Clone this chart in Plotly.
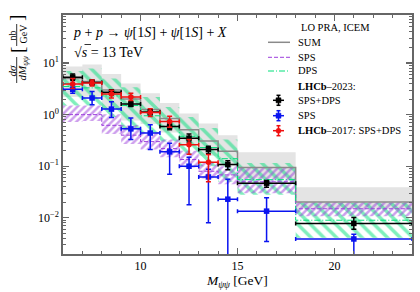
import plotly.graph_objects as go

# ---------------- data ----------------
bin_edges = [6, 7, 8, 9, 10, 11, 12, 13, 14, 15, 18, 24]
bin_centers = [6.5, 7.5, 8.5, 9.5, 10.5, 11.5, 12.5, 13.5, 14.5, 16.5, 21.0]
bin_halfw = [0.5, 0.5, 0.5, 0.5, 0.5, 0.5, 0.5, 0.5, 0.5, 1.5, 3.0]

# theory (LO PRA, ICEM)
sum_c = [5.0, 4.4, 3.0, 2.0, 1.25, 0.84, 0.51, 0.31, 0.195, 0.095, 0.0204]
sum_lo = [2.2, 2.25, 1.3, 0.77, 0.66, 0.45, 0.265, 0.16, 0.1, 0.058, 0.015]
sum_hi = [8.6, 9.4, 6.1, 4.0, 2.6, 1.68, 1.05, 0.67, 0.40, 0.186, 0.039]

sps_c = [1.0, 1.0, 0.62, 0.4, 0.3, 0.22, 0.135, 0.08, 0.068, 0.05, 0.015]
sps_lo = [0.72, 0.75, 0.42, 0.27, 0.21, 0.15, 0.095, 0.058, 0.045, 0.03, 0.0108]
sps_hi = [1.5, 1.5, 1.02, 0.63, 0.46, 0.33, 0.2, 0.118, 0.1, 0.093, 0.0204]

dps_c = [3.5, 3.3, 2.3, 1.5, 0.95, 0.6, 0.38, 0.23, 0.14, 0.055, 0.009]
dps_lo = [1.5, 1.5, 0.9, 0.5, 0.45, 0.3, 0.17, 0.1, 0.05, 0.028, 0.0041]
dps_hi = [7.0, 7.8, 5.0, 3.4, 2.2, 1.4, 0.9, 0.55, 0.33, 0.116, 0.0195]

# LHCb-2023 SPS+DPS
lhcb23_tot = [5.3, 4.2, 2.7, 1.6, 1.12, 0.59, 0.35, 0.21, 0.108, 0.047, 0.0078]
lhcb23_tot_up = [0.8, 0.5, 0.35, 0.18, 0.13, 0.10, 0.07, 0.035, 0.02, 0.006, 0.0024]
lhcb23_tot_dn = [0.7, 0.45, 0.3, 0.16, 0.12, 0.08, 0.055, 0.035, 0.022, 0.008, 0.0018]

# LHCb-2023 SPS
lhcb23_sps = [3.1, 2.1, 1.28, 0.53, 0.44, 0.19, 0.10, 0.062, 0.023, 0.0135, 0.0039]
lhcb23_sps_up = [0.7, 0.7, 0.5, 0.33, 0.2, 0.09, 0.05, 0.025, 0.033, 0.011, 0.0009]
lhcb23_sps_dn = [0.5, 0.55, 0.4, 0.2, 0.23, 0.12, 0.082, 0.054, 0.0228, 0.010, 0.00385]

# LHCb-2017 SPS+DPS
lhcb17_x = [6.5, 7.5, 8.5, 9.5, 10.5, 11.5, 12.5, 13.5]
lhcb17_halfw = [0.5, 0.5, 0.5, 0.5, 0.5, 0.5, 0.5, 0.5]
lhcb17_tot = [3.9, 4.1, 2.5, 2.2, 1.1, 0.74, 0.26, 0.12]
lhcb17_up = [1.1, 0.6, 0.45, 0.4, 0.2, 0.19, 0.07, 0.048]
lhcb17_dn = [0.7, 0.5, 0.4, 0.33, 0.18, 0.17, 0.09, 0.07]

y_tick_vals = [0.01, 0.1, 1, 10]
y_tick_text = ["10<sup>−2</sup>", "10<sup>−1</sup>", "10<sup>0</sup>", "10<sup>1</sup>"]
x_tick_vals = [10, 15, 20]

# ---------------- styles ----------------
SERIF = "Liberation Serif, Times New Roman, DejaVu Serif, serif"
GREY_BAND = "#e4e4e4"
GREY_LINE = "#8a8a8a"
PURPLE = "#9d3fdc"
GREEN = "#00e07a"
AXIS = "#666666"

W, H = 420, 292
ML, MR, MT, MB = 63, 8, 15, 38
PW, PH = W - ML - MR, H - MT - MB


def px(xp):
    return (xp - ML) / PW


def py(yp):
    return (H - MB - yp) / PH


def band_polygon(edges, lo, hi):
    xs, ys = [], []
    for i in range(len(hi)):
        xs += [edges[i], edges[i + 1]]
        ys += [hi[i], hi[i]]
    for i in reversed(range(len(lo))):
        xs += [edges[i + 1], edges[i]]
        ys += [lo[i], lo[i]]
    xs.append(xs[0])
    ys.append(ys[0])
    return xs, ys


def step(edges, vals):
    return list(edges), list(vals) + [vals[-1]]


fig = go.Figure()

# SUM band
bx, by = band_polygon(bin_edges, sum_lo, sum_hi)
fig.add_trace(go.Scatter(x=bx, y=by, mode="lines", fill="toself",
                         fillcolor=GREY_BAND, line=dict(width=0),
                         hoverinfo="skip", showlegend=False))
# DPS band (hatched)
bx, by = band_polygon(bin_edges, dps_lo, dps_hi)
fig.add_trace(go.Scatter(x=bx, y=by, mode="lines", fill="toself",
                         fillcolor="rgba(0,0,0,0)", line=dict(width=0),
                         fillpattern=dict(shape="\\", fgcolor=GREEN, bgcolor="rgba(0,0,0,0)",
                                          size=9, solidity=0.4, fillmode="overlay"),
                         hoverinfo="skip", showlegend=False))
# SPS band (hatched)
bx, by = band_polygon(bin_edges, sps_lo, sps_hi)
fig.add_trace(go.Scatter(x=bx, y=by, mode="lines", fill="toself",
                         fillcolor="rgba(0,0,0,0)", line=dict(width=0),
                         fillpattern=dict(shape="/", fgcolor=PURPLE, bgcolor="rgba(0,0,0,0)",
                                          size=5, solidity=0.5, fillmode="overlay"),
                         hoverinfo="skip", showlegend=False))

# central lines
sx, sy = step(bin_edges, sum_c)
fig.add_trace(go.Scatter(x=sx, y=sy, mode="lines", line=dict(color=GREY_LINE, width=1.5, shape="hv"),
                         hoverinfo="skip", showlegend=False))
sx, sy = step(bin_edges, sps_c)
fig.add_trace(go.Scatter(x=sx, y=sy, mode="lines", line=dict(color=PURPLE, width=1, shape="hv", dash="4px,2px"),
                         hoverinfo="skip", showlegend=False))
sx, sy = step(bin_edges, dps_c)
fig.add_trace(go.Scatter(x=sx, y=sy, mode="lines", line=dict(color=GREEN, width=1, shape="hv", dash="6px,2px,1px,2px"),
                         hoverinfo="skip", showlegend=False))


def data_trace(x, y, hw, up, dn, color, symbol):
    return go.Scatter(
        x=x, y=y, mode="markers",
        marker=dict(color=color, symbol=symbol, size=5.5, line=dict(width=0)),
        error_x=dict(type="data", array=hw, color=color, thickness=1.5, width=2),
        error_y=dict(type="data", symmetric=False, array=up, arrayminus=dn,
                     color=color, thickness=1.5, width=2.5),
        hoverinfo="skip", showlegend=False)


fig.add_trace(data_trace(bin_centers, lhcb23_tot, bin_halfw, lhcb23_tot_up, lhcb23_tot_dn, "black", "square"))
fig.add_trace(data_trace(bin_centers, lhcb23_sps, bin_halfw, lhcb23_sps_up, lhcb23_sps_dn, "#0a14f0", "square"))
fig.add_trace(data_trace(lhcb17_x, lhcb17_tot, lhcb17_halfw, lhcb17_up, lhcb17_dn, "#f01010", "circle"))

# ---------------- annotations / legend ----------------
ann = []
shapes = []


def text(xp, yp, s, size=10.5, xanchor="left", angle=0, color="black"):
    ann.append(dict(x=px(xp), y=py(yp), xref="paper", yref="paper", text=s, showarrow=False,
                    xanchor=xanchor, yanchor="middle", textangle=angle, borderpad=0,
                    font=dict(family=SERIF, size=size, color=color)))


def pline(x0, y0, x1, y1, color, width=1.5, dash="solid"):
    shapes.append(dict(type="line", xref="paper", yref="paper", x0=px(x0), y0=py(y0), x1=px(x1), y1=py(y1),
                       line=dict(color=color, width=width, dash=dash)))


# process label
text(72, 32, "<i>p</i> + <i>p</i> → <i>ψ</i>[1<i>S</i>] + <i>ψ</i>[1<i>S</i>] + <i>X</i>", size=14)
text(73, 52, "√<i>s</i> = 13 TeV", size=14)
pline(84.5, 44.5, 91, 44.5, "black", width=0.8)

# legend
LX0, LX1, TX = 268, 290, 297
text(335, 27.5, "LO PRA, ICEM", size=10.5, xanchor="center")
pline(LX0, 42.3, LX1, 42.3, GREY_LINE, 1.5)
text(TX, 42.3, "SUM")
pline(LX0, 57.3, LX1, 57.3, PURPLE, 1, "4px,2px")
text(TX, 57.3, "SPS")
pline(LX0, 71, LX1, 71, GREEN, 1, "6px,2px,1px,2px")
text(TX, 71, "DPS")
text(TX, 86, "<b>LHCb</b>–2023:")


def legend_marker(yc, color, kind):
    xc = 278.5
    pline(xc - 5.5, yc, xc + 5.5, yc, color, 1.5)
    pline(xc, yc - 5, xc, yc + 5, color, 1.5)
    pline(xc - 2, yc - 5, xc + 2, yc - 5, color, 1.5)
    pline(xc - 2, yc + 5, xc + 2, yc + 5, color, 1.5)
    shapes.append(dict(type=kind, xref="paper", yref="paper",
                       x0=px(xc - 2.5), x1=px(xc + 2.5), y0=py(yc + 2.5), y1=py(yc - 2.5),
                       fillcolor=color, line=dict(color=color, width=0.5)))


legend_marker(100.3, "black", "rect")
text(TX, 100.3, "SPS+DPS")
legend_marker(115.7, "#0a14f0", "rect")
text(TX, 115.7, "SPS")
legend_marker(130.7, "#f01010", "circle")
text(TX, 130.7, "<b>LHCb</b>–2017: SPS+DPS")

# y-axis title built as a fraction
text(11.5, 70, "<i>dσ</i>", size=11, xanchor="center", angle=-90)
text(22.5, 69, "<i>dM</i><sub><i>ψψ</i></sub>", size=11, xanchor="center", angle=-90)
pline(16.7, 57, 16.7, 83, "black", 0.8)
text(11.5, 35, "nb", size=10, xanchor="center", angle=-90)
text(22.5, 34, "GeV", size=10, xanchor="center", angle=-90)
pline(16.7, 24, 16.7, 46, "black", 0.8)
text(17, 50, "[", size=19, xanchor="center", angle=-90)
text(17, 18, "]", size=19, xanchor="center", angle=-90)

# x-axis title
text(237, 281, "<i>M</i><sub><i>ψψ</i></sub> [GeV]", size=13.5, xanchor="center")

# minor ticks
y_minor = []
for e in [0.001, 0.01, 0.1, 1, 10]:
    for k in range(2, 10):
        y_minor.append(k * e)
x_minor = [v for v in range(7, 24) if v not in x_tick_vals]

fig.update_layout(
    width=W, height=H,
    margin=dict(l=ML, r=MR, t=MT, b=MB),
    paper_bgcolor="white", plot_bgcolor="white",
    showlegend=False,
    annotations=ann, shapes=shapes,
    font=dict(family=SERIF, size=11.5, color="black"),
)
fig.update_xaxes(
    range=[6, 24], tickmode="array", tickvals=x_tick_vals, ticktext=[str(v) for v in x_tick_vals],
    ticks="inside", ticklen=6, tickwidth=1.2, tickcolor=AXIS,
    showline=True, linecolor=AXIS, linewidth=1.6, mirror="ticks",
    showgrid=False, zeroline=False, automargin=False,
    tickfont=dict(family=SERIF, size=12, color="black"),
    minor=dict(tickmode="array", tickvals=x_minor, ticks="inside", ticklen=3, tickwidth=1, tickcolor=AXIS, showgrid=False),
)
fig.update_yaxes(
    type="log", range=[-2.7, 1.93], tickmode="array", tickvals=y_tick_vals, ticktext=y_tick_text,
    ticks="inside", ticklen=6, tickwidth=1.2, tickcolor=AXIS,
    showline=True, linecolor=AXIS, linewidth=1.6, mirror="ticks",
    showgrid=False, zeroline=False, automargin=False,
    tickfont=dict(family=SERIF, size=12, color="black"),
    minor=dict(tickmode="array", tickvals=y_minor, ticks="inside", ticklen=3, tickwidth=1, tickcolor=AXIS, showgrid=False),
)

fig.write_html("out.html", config={"displayModeBar": False, "staticPlot": True},
               post_script="document.body.style.margin='0px';document.body.style.overflow='hidden';")
